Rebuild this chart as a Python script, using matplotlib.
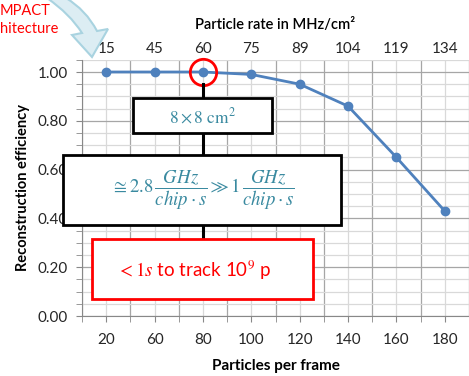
import numpy as np
import matplotlib
matplotlib.use("Agg")
import matplotlib.pyplot as plt
from matplotlib.patches import Rectangle, PathPatch
from matplotlib.path import Path

plt.rcParams['font.family'] = ['Lato', 'DejaVu Sans']
plt.rcParams['mathtext.fontset'] = 'stix'

# ---- data ----
particles = ['20', '60', '80', '100', '120', '140', '160', '180']
rate = ['15', '45', '60', '75', '89', '104', '119', '134']
efficiency = [1.00, 1.00, 1.00, 0.99, 0.95, 0.86, 0.65, 0.43]
highlight = 2  # the 80 particles point

W, H = 469, 376
def fx(x): return x / W
def fy(y): return 1 - y / H

fig = plt.figure(figsize=(W / 100, H / 100), dpi=100)
ax = fig.add_axes([fx(82), fy(316), 387 / W, 1.05 * 244 / H])

xs = np.arange(len(particles))
ax.plot(xs, efficiency, color='#4f81bd', lw=2, marker='o', ms=6, zorder=3, clip_on=False)
ax.plot(xs[highlight], efficiency[highlight], marker='o', ms=19, mfc='none',
        mec='red', mew=2, zorder=4, clip_on=False)

ax.set_xlim(-0.5, -0.5 + 387 / 48.7)
ax.set_ylim(0, 1.05)
ax.set_xticks(xs)
ax.set_xticklabels(particles)
ax.set_xticks(np.arange(-0.5, 8, 1), minor=True)
ax.set_yticks(np.arange(0, 1.01, 0.2))
ax.set_yticklabels(['%.2f' % v for v in np.arange(0, 1.01, 0.2)])
ax.set_yticks(np.arange(0, 1.051, 0.05), minor=True)

ax.grid(which='major', axis='y', color='#a6a6a6', lw=0.9)
ax.grid(which='minor', axis='y', color='#d9d9d9', lw=0.9)
ax.grid(which='minor', axis='x', color='#a6a6a6', lw=0.9)
ax.grid(which='major', axis='x', color='#d9d9d9', lw=0.9)
ax.set_axisbelow(True)

for s in ['top', 'right']:
    ax.spines[s].set_visible(False)
for s in ['left', 'bottom']:
    ax.spines[s].set_color('#888888')
ax.tick_params(which='both', direction='out', color='#888888', length=4,
               labelsize=11, labelcolor='#262626')
ax.tick_params(axis='x', which='major', length=4, pad=8)
ax.tick_params(axis='y', which='major', pad=6)
ax.set_xlabel('Particles per frame', fontsize=11, fontweight='bold', labelpad=9)
ax.set_ylabel('Reconstruction efficiency', fontsize=10.5, fontweight='bold', labelpad=6)

top = ax.secondary_xaxis('top')
top.set_xticks(xs)
top.set_xticklabels(rate)
top.tick_params(length=0, labelsize=11, labelcolor='#262626', pad=3)
top.spines['top'].set_visible(False)
top.set_xlabel('Particle rate in MHz/cm²', fontsize=10.5, fontweight='semibold', labelpad=9)

# ---- annotation chain ----
fig.canvas.draw()
cx = ax.transData.transform((xs[highlight], 0))[0]
fig.add_artist(plt.Line2D([cx / W, cx / W], [fy(84), fy(240)], color='black', lw=2.2,
                          transform=fig.transFigure, zorder=1))

teal = '#3a8aa0'
def box(x0, y0, x1, y1, ec):
    fig.add_artist(Rectangle((fx(x0), fy(y1)), (x1 - x0) / W, (y1 - y0) / H,
                             transform=fig.transFigure, fc='white', ec=ec, lw=2, zorder=2))

box(133, 98, 272, 133, 'black')
fig.text(fx(203), fy(116), r'$8\times 8\ \mathrm{cm}^2$', color=teal, fontsize=12.5,
         ha='center', va='center', zorder=3)
box(63, 155, 341, 225, 'black')
fig.text(fx(203), fy(190), r'$\cong 2.8\,\dfrac{GHz}{chip\cdot s}\gg 1\,\dfrac{GHz}{chip\cdot s}$',
         color=teal, fontsize=13.5, ha='center', va='center', zorder=3)
box(92, 239, 313, 299, 'red')
fig.text(fx(194), fy(270), r'$<1s$ to track 10$^9$ p', color='red', fontsize=13.5,
         ha='center', va='center', zorder=3)

# ---- curved arrow and cut-off label ----
verts = [(66, -2), (86, 10), (97, 31), (108, 29), (92, 57), (72, 35), (82, 33),
         (70, 14), (47, -2), (66, -2)]
codes = [Path.MOVETO, Path.CURVE3, Path.CURVE3, Path.LINETO, Path.LINETO, Path.LINETO,
         Path.LINETO, Path.CURVE3, Path.CURVE3, Path.CLOSEPOLY]
path = Path([(fx(x), fy(y)) for x, y in verts], codes)
fig.add_artist(PathPatch(path, transform=fig.transFigure, fc='#dcedf3', ec='#a9d3e0', lw=1.5))
fig.text(0, fy(11), 'MPACT', color='red', fontsize=10.5, ha='left', va='center')
fig.text(0, fy(29), 'hitecture', color='red', fontsize=10.5, ha='left', va='center')

fig.savefig('out.png', dpi=100)
